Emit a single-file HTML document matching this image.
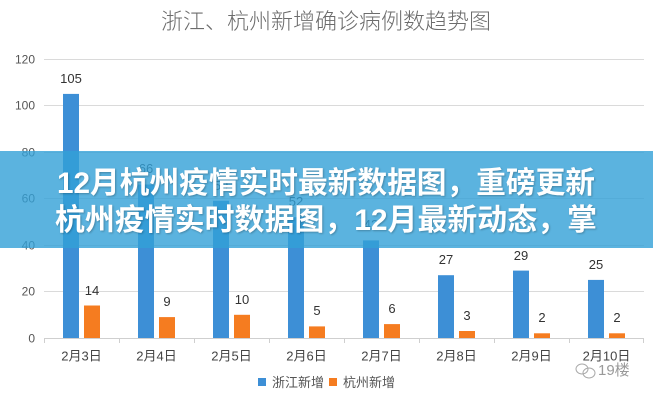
<!DOCTYPE html>
<html>
<head>
<meta charset="utf-8">
<style>
html,body{margin:0;padding:0;background:#fff;}
svg{display:block;}
</style>
</head>
<body>
<svg width="653" height="400" viewBox="0 0 653 400" xmlns="http://www.w3.org/2000/svg">
<rect x="0" y="0" width="653" height="400" fill="#ffffff"/>
<!-- title -->
<text x="326" y="29" text-anchor="middle" font-family="Liberation Sans, Noto Sans CJK SC, sans-serif" font-size="22" font-weight="300" fill="#6c6c6c">浙江、杭州新增确诊病例数趋势图</text>

<!-- gridlines -->
<g stroke="#dadada" stroke-width="1">
<line x1="44" y1="59.5" x2="644" y2="59.5"/>
<line x1="44" y1="105.5" x2="644" y2="105.5"/>
<line x1="44" y1="152.5" x2="644" y2="152.5"/>
<line x1="44" y1="198.5" x2="644" y2="198.5"/>
<line x1="44" y1="245.5" x2="644" y2="245.5"/>
<line x1="44" y1="291.5" x2="644" y2="291.5"/>
</g>
<!-- y labels -->
<g font-family="Liberation Sans, sans-serif" font-size="12" fill="#555" text-anchor="end">
<text x="35" y="63.5">120</text>
<text x="35" y="109.5">100</text>
<text x="35" y="156.5">80</text>
<text x="35" y="202.5">60</text>
<text x="35" y="249.5">40</text>
<text x="35" y="295.5">20</text>
<text x="35" y="342.5">0</text>
</g>

<!-- bars: scale 2.325 px/unit, zero at 338 -->
<g fill="#3d8fd6">
<rect x="63" y="93.9" width="16" height="244.1"/>
<rect x="138" y="184.5" width="16" height="153.5"/>
<rect x="213" y="200.8" width="16" height="137.2"/>
<rect x="288" y="217.1" width="16" height="120.9"/>
<rect x="363" y="240.4" width="16" height="97.6"/>
<rect x="438" y="275.2" width="16" height="62.8"/>
<rect x="513" y="270.6" width="16" height="67.4"/>
<rect x="588" y="279.9" width="16" height="58.1"/>
</g>
<g fill="#f57c20">
<rect x="84" y="305.5" width="16" height="32.5"/>
<rect x="159" y="317.1" width="16" height="20.9"/>
<rect x="234" y="314.8" width="16" height="23.2"/>
<rect x="309" y="326.4" width="16" height="11.6"/>
<rect x="384" y="324.1" width="16" height="13.9"/>
<rect x="459" y="331" width="16" height="7"/>
<rect x="534" y="333.3" width="16" height="4.7"/>
<rect x="609" y="333.3" width="16" height="4.7"/>
</g>

<!-- data labels -->
<g font-family="Liberation Sans, sans-serif" font-size="13" fill="#333" text-anchor="middle">
<text x="71" y="83">105</text>
<text x="146" y="173">66</text>
<text x="221" y="190">59</text>
<text x="296" y="206">52</text>
<text x="371" y="229">42</text>
<text x="446" y="264">27</text>
<text x="521" y="260">29</text>
<text x="596" y="269">25</text>
<text x="92" y="295">14</text>
<text x="167" y="306">9</text>
<text x="242" y="304">10</text>
<text x="317" y="315">5</text>
<text x="392" y="313">6</text>
<text x="467" y="320">3</text>
<text x="542" y="322">2</text>
<text x="617" y="322">2</text>
</g>

<!-- axis -->
<line x1="44" y1="338.5" x2="644" y2="338.5" stroke="#cfcfcf" stroke-width="1"/>
<g stroke="#cfcfcf" stroke-width="1">
<line x1="44.5" y1="338" x2="44.5" y2="343"/>
<line x1="119.5" y1="338" x2="119.5" y2="343"/>
<line x1="194.5" y1="338" x2="194.5" y2="343"/>
<line x1="269.5" y1="338" x2="269.5" y2="343"/>
<line x1="344.5" y1="338" x2="344.5" y2="343"/>
<line x1="419.5" y1="338" x2="419.5" y2="343"/>
<line x1="494.5" y1="338" x2="494.5" y2="343"/>
<line x1="569.5" y1="338" x2="569.5" y2="343"/>
<line x1="643.5" y1="338" x2="643.5" y2="343"/>
</g>
<!-- x labels -->
<g font-family="Liberation Sans, Noto Sans CJK SC, sans-serif" font-size="13" fill="#444" text-anchor="middle">
<text x="81.5" y="360.5">2月3日</text>
<text x="156.5" y="360.5">2月4日</text>
<text x="231.5" y="360.5">2月5日</text>
<text x="306.5" y="360.5">2月6日</text>
<text x="381.5" y="360.5">2月7日</text>
<text x="456.5" y="360.5">2月8日</text>
<text x="531.5" y="360.5">2月9日</text>
<text x="606.5" y="360.5">2月10日</text>
</g>

<!-- legend -->
<rect x="258" y="378" width="8" height="8" fill="#3d8fd6"/>
<text x="272" y="387" font-family="Liberation Sans, Noto Sans CJK SC, sans-serif" font-size="13" fill="#555">浙江新增</text>
<rect x="329" y="378" width="8" height="8" fill="#f57c20"/>
<text x="343" y="387" font-family="Liberation Sans, Noto Sans CJK SC, sans-serif" font-size="13" fill="#555">杭州新增</text>

<!-- watermark -->
<g fill="none" stroke="#aaa" stroke-width="1">
<ellipse cx="582" cy="369" rx="6" ry="5"/>
<ellipse cx="589" cy="373" rx="6" ry="5"/>
</g>
<text x="598" y="375" font-family="Liberation Sans, Noto Sans CJK SC, sans-serif" font-size="15" fill="#9a9a9a">19楼</text>

<!-- banner overlay -->
<rect x="0" y="151" width="653" height="97" fill="rgba(50,160,215,0.8)"/>
<g font-family="Liberation Sans, Noto Sans CJK SC, sans-serif" font-size="30" font-weight="bold" fill="#ffffff" style="text-shadow:1px 1px 2px rgba(0,0,0,0.25)">
<text x="57" y="193" textLength="538" lengthAdjust="spacingAndGlyphs">12月杭州疫情实时最新数据图，重磅更新</text>
<text x="55" y="230" textLength="542" lengthAdjust="spacingAndGlyphs">杭州疫情实时数据图，12月最新动态，掌</text>
</g>
</svg>
</body>
</html>
